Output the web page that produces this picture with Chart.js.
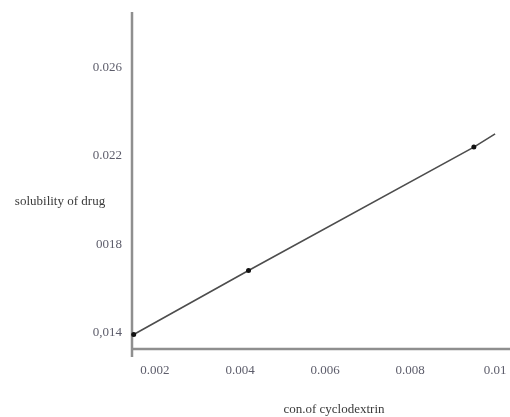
<!DOCTYPE html>
<html>
<head>
<meta charset="utf-8">
<style>
  html, body { margin: 0; padding: 0; background: #fff; }
  #wrap { width: 510px; height: 417px; position: relative; }
</style>
<script src="https://cdn.jsdelivr.net/npm/chart.js@4/dist/chart.umd.min.js"></script>
</head>
<body>
<div id="wrap"><canvas id="c" width="510" height="417"></canvas></div>
<script>
// Cyclodextrin concentration vs. drug solubility
const concentration = [0.0015, 0.0042, 0.0095, 0.0100];
const solubility    = [0.0139, 0.0168, 0.0224, 0.0230];
const markerSizes   = [2.5, 2.5, 2.5, 0];

const xTickValues = [0.002, 0.004, 0.006, 0.008, 0.01];
const xTickLabels = ['0.002', '0.004', '0.006', '0.008', '0.01'];
const yTickValues = [0.014, 0.018, 0.022, 0.026];
const yTickLabels = ['0,014', '0018', '0.022', '0.026'];

const xTitle = 'con.of cyclodextrin';
const yTitle = 'solubility of drug';

const FONT = "'Liberation Serif', 'Times New Roman', serif";
const AXIS_COLOR = '#8f8f8f';
const TICK_COLOR = '#5d5d6b';

const points = concentration.map((x, i) => ({ x, y: solubility[i] }));

// Axis lines and horizontal titles
const decorations = {
  id: 'decorations',
  beforeDatasetsDraw(chart) {
    const { ctx, chartArea: a } = chart;
    ctx.save();
    ctx.strokeStyle = AXIS_COLOR;
    ctx.lineWidth = 2.5;
    ctx.beginPath();
    ctx.moveTo(a.left, a.top);
    ctx.lineTo(a.left, a.bottom + 8);
    ctx.moveTo(a.left, a.bottom);
    ctx.lineTo(a.right, a.bottom);
    ctx.stroke();
    ctx.restore();
  },
  afterDraw(chart) {
    const { ctx, chartArea: a } = chart;
    ctx.save();
    ctx.fillStyle = '#3a3a3a';
    ctx.font = '13px ' + FONT;
    ctx.textAlign = 'center';
    ctx.textBaseline = 'middle';
    ctx.fillText(yTitle, a.left - 72, a.top + 190);
    ctx.fillText(xTitle, a.left + 202, a.bottom + 61);
    ctx.restore();
  }
};

new Chart(document.getElementById('c'), {
  type: 'scatter',
  data: {
    datasets: [{
      data: points,
      showLine: true,
      borderColor: '#4d4d4d',
      borderWidth: 1.6,
      pointRadius: markerSizes,
      pointBackgroundColor: '#111',
      pointBorderColor: '#111',
      pointBorderWidth: 0,
      tension: 0,
      clip: false
    }]
  },
  options: {
    responsive: false,
    animation: false,
    devicePixelRatio: 1,
    layout: { autoPadding: false, padding: { top: 12, left: 0, right: 0, bottom: 0 } },
    plugins: { legend: { display: false }, tooltip: { enabled: false } },
    scales: {
      x: {
        type: 'linear',
        min: 0.00146,
        max: 0.01035,
        grid: { display: false, drawTicks: false },
        border: { display: false },
        afterBuildTicks(scale) { scale.ticks = xTickValues.map(v => ({ value: v })); },
        afterFit(scale) { scale.height = 68; scale.paddingLeft = 0; scale.paddingRight = 0; },
        ticks: {
          padding: 14,
          color: TICK_COLOR,
          font: { family: FONT, size: 13 },
          maxRotation: 0,
          callback: (v, i) => xTickLabels[i]
        }
      },
      y: {
        type: 'linear',
        min: 0.01324,
        max: 0.02853,
        grid: { display: false, drawTicks: false },
        border: { display: false },
        afterBuildTicks(scale) { scale.ticks = yTickValues.map(v => ({ value: v })); },
        afterFit(scale) { scale.width = 132; scale.paddingTop = 0; scale.paddingBottom = 0; },
        ticks: {
          padding: 10,
          color: TICK_COLOR,
          font: { family: FONT, size: 13 },
          callback: (v, i) => yTickLabels[i]
        }
      }
    }
  },
  plugins: [decorations]
});
</script>
</body>
</html>
